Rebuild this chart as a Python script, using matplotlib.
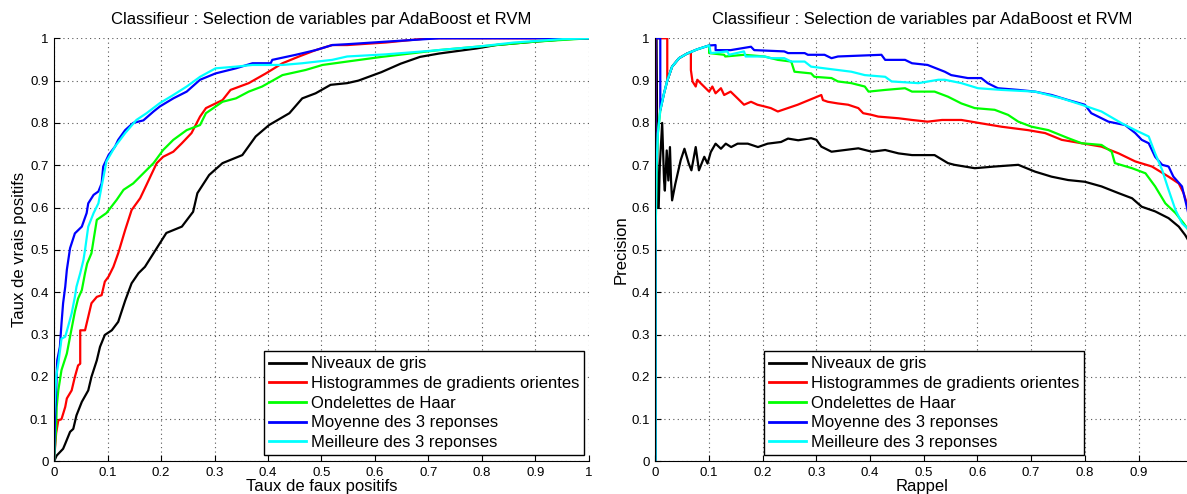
import matplotlib
matplotlib.use("Agg")
import matplotlib.pyplot as plt

plt.rcParams["font.family"] = ["Liberation Sans", "DejaVu Sans"]

titre = "Classifieur : Selection de variables par AdaBoost et RVM"
noms = ["Niveaux de gris", "Histogrammes de gradients orientes",
        "Ondelettes de Haar", "Moyenne des 3 reponses",
        "Meilleure des 3 reponses"]
couleurs = ["#000000", "#ff0000", "#00ff00", "#0000ff", "#00ffff"]

# ---- courbes ROC (taux de faux positifs, taux de vrais positifs) ----
fp_gris = [0, 0.005, 0.017, 0.021, 0.03, 0.036, 0.042, 0.052, 0.064, 0.07, 0.08,
           0.086, 0.095, 0.108, 0.12, 0.133, 0.145, 0.158, 0.17, 0.186, 0.198,
           0.21, 0.239, 0.26, 0.268, 0.29, 0.315, 0.352, 0.377, 0.402, 0.44,
           0.464, 0.489, 0.517, 0.548, 0.569, 0.612, 0.648, 0.684, 0.72, 0.79,
           0.826, 0.898, 0.96, 1.0]
vp_gris = [0, 0.014, 0.03, 0.042, 0.07, 0.077, 0.109, 0.141, 0.168, 0.2, 0.239,
           0.271, 0.299, 0.31, 0.33, 0.38, 0.421, 0.445, 0.46, 0.492, 0.516,
           0.54, 0.555, 0.59, 0.634, 0.677, 0.705, 0.724, 0.768, 0.795, 0.823,
           0.858, 0.87, 0.89, 0.894, 0.9, 0.92, 0.94, 0.956, 0.964, 0.976,
           0.984, 0.992, 0.998, 1.0]

fp_hog = [0, 0.004, 0.008, 0.014, 0.021, 0.024, 0.033, 0.039, 0.045, 0.049, 0.049,
          0.058, 0.064, 0.07, 0.08, 0.089, 0.095, 0.102, 0.111, 0.12, 0.133,
          0.145, 0.161, 0.173, 0.183, 0.192, 0.204, 0.223, 0.239, 0.257, 0.273,
          0.284, 0.315, 0.33, 0.364, 0.396, 0.427, 0.458, 0.489, 0.52, 0.548,
          0.62, 0.7, 1.0]
vp_hog = [0, 0.067, 0.097, 0.1, 0.129, 0.149, 0.168, 0.2, 0.227, 0.231, 0.31,
          0.31, 0.342, 0.374, 0.389, 0.393, 0.425, 0.437, 0.46, 0.492, 0.547,
          0.594, 0.622, 0.654, 0.681, 0.705, 0.72, 0.732, 0.752, 0.776, 0.815,
          0.835, 0.854, 0.878, 0.894, 0.917, 0.941, 0.957, 0.972, 0.984, 0.984,
          0.99, 1.0, 1.0]

fp_haar = [0, 0.004, 0.005, 0.008, 0.014, 0.024, 0.03, 0.039, 0.045, 0.052, 0.058,
           0.062, 0.07, 0.074, 0.08, 0.098, 0.117, 0.13, 0.148, 0.167, 0.186,
           0.204, 0.223, 0.248, 0.273, 0.284, 0.315, 0.34, 0.364, 0.389, 0.427,
           0.47, 0.502, 0.548, 0.612, 0.719, 0.79, 0.898, 1.0]
vp_haar = [0, 0.08, 0.129, 0.168, 0.216, 0.255, 0.295, 0.354, 0.385, 0.405, 0.445,
           0.468, 0.492, 0.524, 0.571, 0.587, 0.618, 0.642, 0.657, 0.681, 0.705,
           0.736, 0.76, 0.783, 0.795, 0.823, 0.85, 0.858, 0.874, 0.886, 0.913,
           0.925, 0.937, 0.945, 0.956, 0.972, 0.98, 0.992, 1.0]

fp_moy = [0, 0.002, 0.004, 0.006, 0.011, 0.014, 0.017, 0.021, 0.024, 0.03, 0.039,
          0.052, 0.061, 0.064, 0.074, 0.083, 0.089, 0.092, 0.102, 0.114, 0.12,
          0.133, 0.148, 0.167, 0.186, 0.198, 0.223, 0.248, 0.273, 0.302, 0.34,
          0.371, 0.405, 0.408, 0.452, 0.489, 0.52, 0.548, 0.62, 0.72, 1.0]
vp_moy = [0, 0.105, 0.168, 0.239, 0.271, 0.326, 0.374, 0.413, 0.453, 0.504, 0.539,
          0.555, 0.587, 0.61, 0.63, 0.638, 0.657, 0.697, 0.724, 0.744, 0.76,
          0.783, 0.8, 0.806, 0.827, 0.839, 0.858, 0.874, 0.902, 0.917, 0.929,
          0.941, 0.941, 0.949, 0.961, 0.972, 0.984, 0.986, 0.992, 1.0, 1.0]

fp_best = [0, 0, 0.004, 0.008, 0.014, 0.021, 0.027, 0.033, 0.039, 0.042, 0.049,
           0.055, 0.058, 0.064, 0.074, 0.083, 0.089, 0.095, 0.098, 0.114, 0.133,
           0.154, 0.173, 0.198, 0.223, 0.248, 0.273, 0.302, 0.34, 0.371, 0.427,
           0.464, 0.52, 0.548, 0.62, 0.7, 0.79, 0.86, 0.95, 1.0]
vp_best = [0, 0.105, 0.2, 0.231, 0.29, 0.295, 0.322, 0.35, 0.389, 0.413, 0.445,
           0.476, 0.5, 0.555, 0.587, 0.61, 0.65, 0.689, 0.709, 0.744, 0.776,
           0.807, 0.823, 0.847, 0.866, 0.886, 0.909, 0.929, 0.933, 0.937, 0.937,
           0.941, 0.949, 0.957, 0.962, 0.97, 0.98, 0.99, 0.998, 1.0]

# ---- courbes precision / rappel ----
# debut commun des courbes (rappel tres faible)
r_debut = [0, 0, 0.002, 0.0044, 0.009, 0.016, 0.022, 0.031, 0.044, 0.059, 0.078, 0.1]
p_debut = [0, 0.5, 0.696, 0.775, 0.83, 0.87, 0.9, 0.933, 0.953, 0.964, 0.974, 0.983]

r_gris = [0, 0, 0.002, 0.004, 0.006, 0.008, 0.0125, 0.016, 0.0175, 0.021, 0.024,
          0.027, 0.029, 0.031, 0.037, 0.047, 0.054, 0.062, 0.067, 0.075, 0.081,
          0.091, 0.097, 0.103, 0.112, 0.122, 0.131, 0.141, 0.153, 0.172, 0.191,
          0.209, 0.234, 0.247, 0.266, 0.29, 0.3, 0.309, 0.328, 0.353, 0.378,
          0.403, 0.428, 0.453, 0.478, 0.52, 0.545, 0.557, 0.595, 0.632, 0.676,
          0.707, 0.738, 0.769, 0.8, 0.831, 0.863, 0.888, 0.906, 0.931, 0.956,
          0.975, 0.987, 0.994]
p_gris = [0, 1, 1, 0.6, 0.6, 0.696, 0.8, 0.664, 0.64, 0.735, 0.664,
          0.743, 0.664, 0.617, 0.656, 0.712, 0.739, 0.704, 0.688, 0.743, 0.688,
          0.72, 0.704, 0.731, 0.751, 0.739, 0.751, 0.743, 0.751, 0.751, 0.743,
          0.751, 0.755, 0.763, 0.759, 0.764, 0.76, 0.744, 0.732, 0.736, 0.74,
          0.732, 0.736, 0.728, 0.724, 0.724, 0.705, 0.701, 0.693, 0.697, 0.701,
          0.685, 0.673, 0.665, 0.661, 0.65, 0.634, 0.622, 0.602, 0.591, 0.575,
          0.555, 0.535, 0.52]

r_hog = [0, 0, 0.022, 0.022, 0.031, 0.044, 0.059, 0.066, 0.066, 0.069, 0.075,
         0.078, 0.084, 0.1, 0.106, 0.112, 0.122, 0.128, 0.14, 0.153, 0.165,
         0.178, 0.19, 0.203, 0.215, 0.228, 0.265, 0.309, 0.312, 0.321, 0.34,
         0.359, 0.378, 0.387, 0.403, 0.415, 0.453, 0.478, 0.507, 0.534, 0.57,
         0.607, 0.645, 0.694, 0.726, 0.757, 0.794, 0.831, 0.863, 0.894, 0.925,
         0.956, 0.975, 0.984, 0.992, 0.994]
p_hog = [0, 1, 1, 0.9, 0.933, 0.953, 0.964, 0.966, 0.925, 0.898, 0.886,
         0.902, 0.894, 0.874, 0.886, 0.87, 0.882, 0.866, 0.874, 0.858, 0.843,
         0.85, 0.843, 0.839, 0.835, 0.827, 0.843, 0.866, 0.854, 0.85, 0.846,
         0.843, 0.835, 0.823, 0.819, 0.815, 0.811, 0.807, 0.803, 0.807, 0.807,
         0.799, 0.791, 0.783, 0.776, 0.76, 0.752, 0.744, 0.728, 0.709, 0.697,
         0.673, 0.657, 0.634, 0.602, 0.579]

r_haar = [0.1, 0.128, 0.13, 0.165, 0.203, 0.228, 0.253, 0.259, 0.29, 0.296,
          0.328, 0.34, 0.365, 0.39, 0.397, 0.428, 0.465, 0.478, 0.52, 0.545,
          0.57, 0.595, 0.632, 0.657, 0.676, 0.701, 0.732, 0.769, 0.794, 0.831,
          0.85, 0.856, 0.888, 0.913, 0.931, 0.95, 0.969, 0.984, 0.993]
p_haar = [0.965, 0.961, 0.957, 0.961, 0.957, 0.949, 0.945, 0.921, 0.917, 0.909,
          0.906, 0.898, 0.894, 0.886, 0.874, 0.878, 0.882, 0.874, 0.874, 0.862,
          0.846, 0.835, 0.831, 0.819, 0.803, 0.791, 0.783, 0.764, 0.752, 0.748,
          0.732, 0.705, 0.693, 0.681, 0.65, 0.61, 0.587, 0.563, 0.547]

r_moy = [0.112, 0.112, 0.14, 0.178, 0.184, 0.24, 0.247, 0.278, 0.284, 0.315,
         0.328, 0.34, 0.421, 0.428, 0.465, 0.478, 0.507, 0.539, 0.551, 0.582,
         0.607, 0.619, 0.638, 0.676, 0.707, 0.738, 0.769, 0.8, 0.812, 0.844,
         0.875, 0.894, 0.906, 0.919, 0.931, 0.944, 0.956, 0.965, 0.981, 0.99, 0.994]
p_moy = [0.984, 0.972, 0.972, 0.98, 0.972, 0.969, 0.965, 0.965, 0.961, 0.961,
         0.953, 0.957, 0.961, 0.949, 0.949, 0.941, 0.937, 0.921, 0.913, 0.906,
         0.906, 0.894, 0.882, 0.878, 0.874, 0.866, 0.854, 0.843, 0.823, 0.803,
         0.795, 0.776, 0.76, 0.752, 0.72, 0.701, 0.697, 0.673, 0.65, 0.602, 0.579]

r_best = [0.1, 0.103, 0.134, 0.137, 0.165, 0.168, 0.203, 0.215, 0.24, 0.253,
          0.278, 0.29, 0.315, 0.34, 0.365, 0.39, 0.428, 0.44, 0.49, 0.527,
          0.539, 0.57, 0.601, 0.645, 0.707, 0.757, 0.794, 0.831, 0.869, 0.894,
          0.919, 0.931, 0.944, 0.956, 0.969, 0.981, 0.994]
p_best = [0.983, 0.965, 0.969, 0.961, 0.969, 0.957, 0.957, 0.953, 0.953, 0.945,
          0.945, 0.933, 0.929, 0.925, 0.921, 0.913, 0.909, 0.898, 0.894, 0.902,
          0.902, 0.894, 0.882, 0.878, 0.874, 0.858, 0.843, 0.827, 0.799, 0.783,
          0.768, 0.728, 0.689, 0.642, 0.594, 0.563, 0.547]

graduations = [0, 0.1, 0.2, 0.3, 0.4, 0.5, 0.6, 0.7, 0.8, 0.9, 1]
etiquettes = ["0", "0.1", "0.2", "0.3", "0.4", "0.5", "0.6", "0.7", "0.8", "0.9", "1"]


def style_axes(ax, xmax):
    ax.set_xlim(0, xmax)
    ax.set_ylim(0, 1)
    ax.set_yticks(graduations)
    ax.set_yticklabels(etiquettes)
    xt = [g for g in graduations if g <= xmax]
    ax.set_xticks(xt)
    ax.set_xticklabels(etiquettes[:len(xt)])
    ax.spines["top"].set_visible(False)
    ax.spines["right"].set_visible(False)
    ax.tick_params(direction="in", length=4, labelsize=9.5, pad=4, width=0.8)
    ax.grid(True, linestyle=(0, (1, 3)), color="#555555", linewidth=0.8)
    ax.set_axisbelow(True)
    ax.set_title(titre, fontsize=12, pad=10)


fig = plt.figure(figsize=(11.87, 4.94), dpi=100)
ax1 = fig.add_axes([0.0455, 0.0658, 0.4507, 0.8567])
ax2 = fig.add_axes([0.5522, 0.0658, 0.4490, 0.8567])

lw = 1.6
roc = [(fp_gris, vp_gris), (fp_hog, vp_hog), (fp_haar, vp_haar),
       (fp_moy, vp_moy), (fp_best, vp_best)]
for (x, y), c, n in zip(roc, couleurs, noms):
    ax1.plot(x, y, color=c, linewidth=lw, label=n)

pr = [(r_gris, p_gris),
      (r_hog, p_hog),
      (r_debut + r_haar, p_debut + p_haar),
      ([0, 0, 0.009, 0.009] + r_debut[4:] + r_moy, [0, 1, 1, 0.83] + p_debut[4:] + p_moy),
      (r_debut + r_best, p_debut + p_best)]
for (x, y), c, n in zip(pr, couleurs, noms):
    ax2.plot(x, y, color=c, linewidth=lw, label=n)

style_axes(ax1, 1.0)
style_axes(ax2, 0.993)
ax1.set_xlabel("Taux de faux positifs", fontsize=12, labelpad=0)
ax1.set_ylabel("Taux de vrais positifs", fontsize=12, labelpad=2)
ax2.set_xlabel("Rappel", fontsize=12, labelpad=0)
ax2.set_ylabel("Precision", fontsize=12, labelpad=2)

for ax, xa in ((ax1, 0.991), (ax2, 0.804)):
    leg = ax.legend(loc="lower right", bbox_to_anchor=(xa, 0.015), borderaxespad=0,
                    fontsize=12, fancybox=False, framealpha=1, edgecolor="black",
                    handlelength=2.2, handletextpad=0.3, labelspacing=0.28,
                    borderpad=0.3)
    leg.get_frame().set_linewidth(1.0)
    for l in leg.get_lines():
        l.set_linewidth(2)

fig.savefig("out.png", dpi=100)
